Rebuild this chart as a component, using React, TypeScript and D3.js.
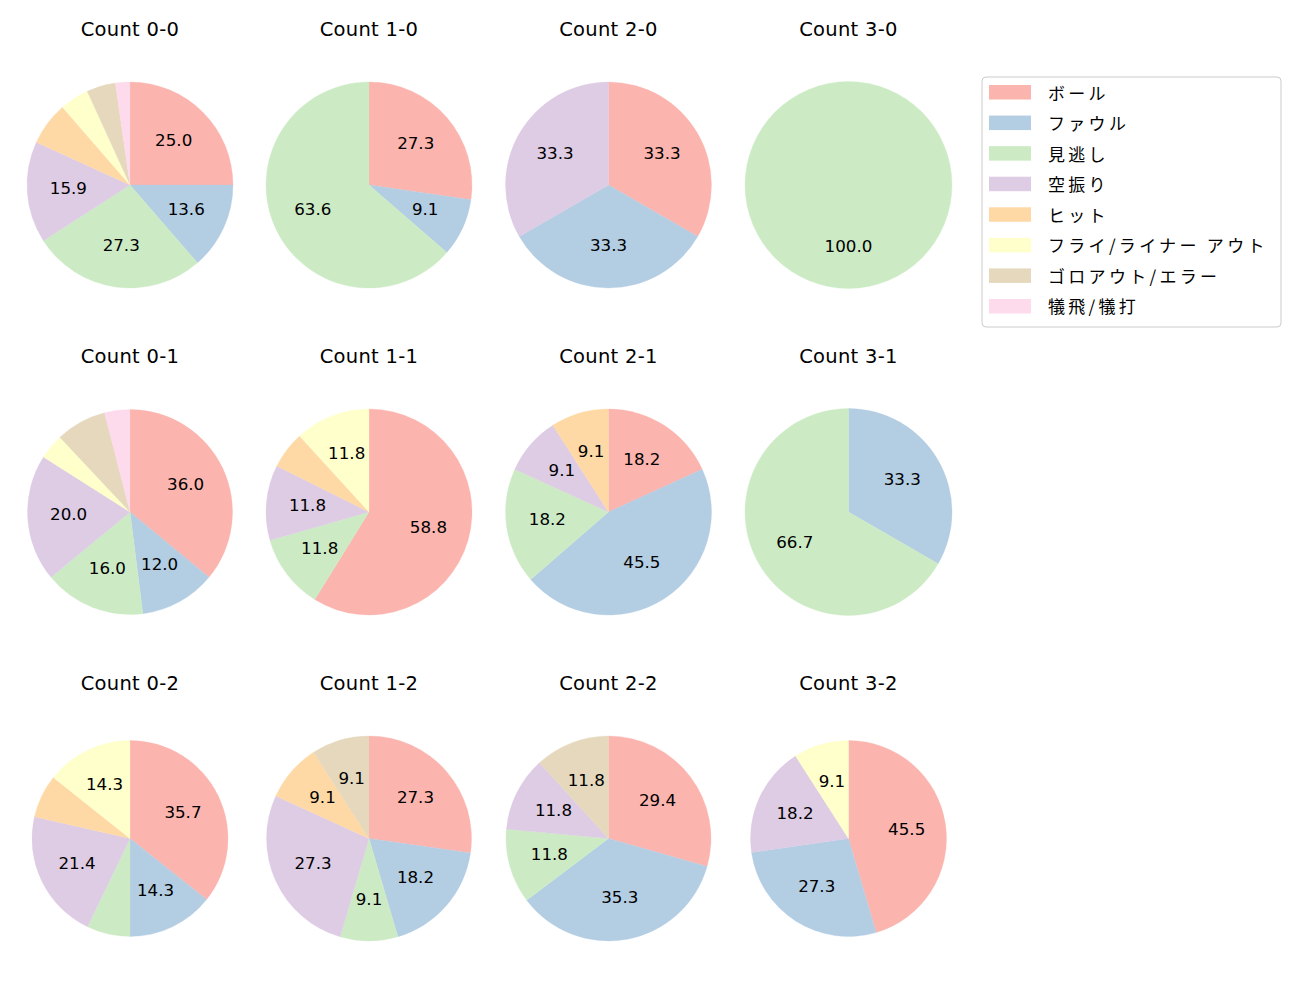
import React from "react";
import * as d3 from "d3";

const categories = ["ボール", "ファウル", "見逃し", "空振り", "ヒット", "フライ/ライナー アウト", "ゴロアウト/エラー", "犠飛/犠打"];
const colors = ["#fbb4ae", "#b3cde3", "#ccebc5", "#decbe4", "#fed9a6", "#ffffcc", "#e5d8bd", "#fddaec"];

const panelTitles = [
  "Count 0-0", "Count 1-0", "Count 2-0", "Count 3-0",
  "Count 0-1", "Count 1-1", "Count 2-1", "Count 3-1",
  "Count 0-2", "Count 1-2", "Count 2-2", "Count 3-2",
];

// counts per category (same order as categories)
const count00 = [11, 6, 12, 7, 3, 2, 2, 1];
const count10 = [3, 1, 7, 0, 0, 0, 0, 0];
const count20 = [1, 1, 0, 1, 0, 0, 0, 0];
const count30 = [0, 0, 1, 0, 0, 0, 0, 0];
const count01 = [9, 3, 4, 5, 0, 1, 2, 1];
const count11 = [10, 0, 2, 2, 1, 2, 0, 0];
const count21 = [2, 5, 2, 1, 1, 0, 0, 0];
const count31 = [0, 1, 2, 0, 0, 0, 0, 0];
const count02 = [5, 2, 1, 3, 1, 2, 0, 0];
const count12 = [3, 2, 1, 3, 1, 0, 1, 0];
const count22 = [5, 6, 2, 2, 0, 0, 2, 0];
const count32 = [5, 3, 0, 2, 0, 1, 0, 0];

const panelData = [
  count00, count10, count20, count30,
  count01, count11, count21, count31,
  count02, count12, count22, count32,
];

// layout
const colX = [130, 369, 608.5, 848.5];
const rowY = [185, 512, 838.5];
const radii = [103, 103, 103, 103.5, 102.5, 103, 103, 103.5, 98, 102.5, 102.5, 98];
const LATIN = "'DejaVu Sans', sans-serif";
const CJK = "'Noto Sans CJK JP', 'DejaVu Sans', sans-serif";

function Pie({ values, cx, cy, r, title }: { values: number[]; cx: number; cy: number; r: number; title: string }) {
  const total = d3.sum(values);
  const pie = d3.pie<number>().sort(null).value((d) => d).startAngle(0).endAngle(2 * Math.PI);
  const arcs = pie(values);
  const arc = d3.arc<d3.PieArcDatum<number>>().innerRadius(0).outerRadius(r);
  return (
    <g>
      <text x={cx} y={rowTitleY(cy)} textAnchor="middle" dominantBaseline="central" fontSize={19.5} letterSpacing={0.3} fontFamily={LATIN} fill="#000">
        {title}
      </text>
      <g transform={`translate(${cx},${cy})`}>
        {arcs.map((a, i) =>
          a.value > 0 ? <path key={i} d={arc(a) || ""} fill={colors[i]} stroke={colors[i]} strokeWidth={0.3} /> : null
        )}
        {arcs.map((a, i) => {
          const pct = (a.value / total) * 100;
          if (a.value <= 0 || pct < 9) return null;
          const mid = (a.startAngle + a.endAngle) / 2;
          const lr = r * 0.6;
          return (
            <text
              key={"t" + i}
              x={Math.sin(mid) * lr}
              y={-Math.cos(mid) * lr - 1.5}
              textAnchor="middle"
              dominantBaseline="central"
              fontSize={16.7}
              fontFamily={LATIN}
              fill="#000"
            >
              {pct.toFixed(1)}
            </text>
          );
        })}
      </g>
    </g>
  );
}

function rowTitleY(cy: number) {
  return cy - 155.5;
}

export default function App() {
  const legendX = 982;
  const legendY = 77;
  const rowH = 30.57;
  return (
    <svg width={1300} height={1000} style={{ position: "absolute", left: 0, top: 0, background: "#fff" }}>
      <rect x={0} y={0} width={1300} height={1000} fill="#fff" />
      {panelData.map((vals, i) => (
        <Pie key={i} values={vals} cx={colX[i % 4]} cy={rowY[Math.floor(i / 4)]} r={radii[i]} title={panelTitles[i]} />
      ))}
      <g>
        <rect x={legendX} y={legendY} width={299} height={250} rx={4} fill="#fff" stroke="#cccccc" strokeWidth={1} />
        {categories.map((c, i) => (
          <g key={c}>
            <rect x={989} y={legendY + 15 + i * rowH - 7} width={42} height={14.5} fill={colors[i]} />
            <text
              x={1048}
              y={legendY + 15 + i * rowH}
              dominantBaseline="central"
              fontSize={17}
              letterSpacing={3.3}
              fontFamily={CJK}
              fill="#000"
            >
              {c}
            </text>
          </g>
        ))}
      </g>
    </svg>
  );
}
